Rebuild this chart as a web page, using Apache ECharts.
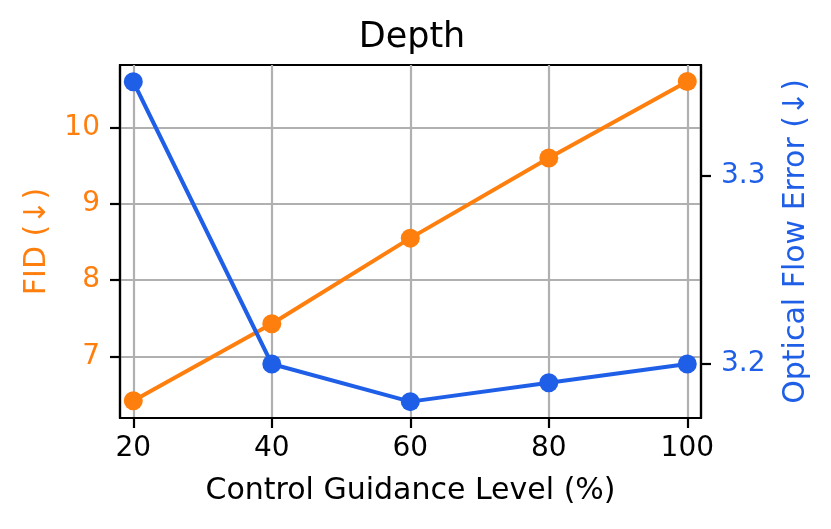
<!DOCTYPE html>
<html>
<head>
<meta charset="utf-8">
<script src="https://cdn.jsdelivr.net/npm/echarts@6/dist/echarts.min.js"></script>
<style>
  html, body { margin: 0; padding: 0; background: #fff; }
  #chart { width: 831px; height: 529px; }
</style>
</head>
<body>
<div id="chart"></div>
<script>
// data
var guidance = [20, 40, 60, 80, 100];
var fid = [6.42, 7.43, 8.55, 9.60, 10.60];
var flowError = [3.35, 3.20, 3.18, 3.19, 3.20];

var xTicks = [20, 40, 60, 80, 100];
var fidTicks = [7, 8, 9, 10];
var flowTicks = [3.2, 3.3];

var ORANGE = '#ff7f0e', BLUE = '#1f5fe8';
var FONT = 'DejaVu Sans';

function pairs(xs, ys) {
    var out = [];
    for (var i = 0; i < xs.length; i++) out.push([xs[i], ys[i]]);
    return out;
}

var chart = echarts.init(document.getElementById('chart'), null, { renderer: 'canvas' });

chart.setOption({
    animation: false,
    backgroundColor: '#fff',
    title: {
        text: 'Depth',
        left: 407,
        textAlign: 'center',
        top: 15,
        textStyle: { fontFamily: FONT, fontSize: 35, fontWeight: 'normal', color: '#000' }
    },
    grid: {
        left: 120, right: 130, top: 65, bottom: 111,
        containLabel: false,
        outerBoundsMode: 'none',
        show: true, borderColor: '#000', borderWidth: 2.2, backgroundColor: 'transparent'
    },
    xAxis: {
        type: 'value',
        min: 18.08, max: 101.98,
        name: 'Control Guidance Level (%)',
        nameLocation: 'middle',
        nameGap: 58,
        nameTextStyle: { fontFamily: FONT, fontSize: 30, color: '#000' },
        axisLine: { show: true, onZero: false, lineStyle: { color: '#000', width: 2.2 } },
        axisTick: { show: true, length: 10, customValues: xTicks, lineStyle: { color: '#000', width: 2.2 } },
        axisLabel: { customValues: xTicks, margin: 17, fontFamily: FONT, fontSize: 28, color: '#000' },
        splitLine: { show: true, lineStyle: { color: '#b0b0b0', width: 2.2 } }
    },
    yAxis: [{
        type: 'value',
        position: 'left',
        min: 6.195, max: 10.817,
        name: 'FID (↓)',
        nameLocation: 'middle',
        nameRotate: 90,
        nameGap: 68,
        nameTextStyle: { fontFamily: FONT, fontSize: 30, color: ORANGE },
        axisLine: { show: true, lineStyle: { color: '#000', width: 2.2 } },
        axisTick: { show: true, length: 10, customValues: fidTicks, lineStyle: { color: '#000', width: 2.2 } },
        axisLabel: { customValues: fidTicks, margin: 20, fontFamily: FONT, fontSize: 28, color: ORANGE },
        splitLine: { show: true, lineStyle: { color: '#b0b0b0', width: 2.2 } }
    }, {
        type: 'value',
        position: 'right',
        min: 3.1713, max: 3.3589,
        name: 'Optical Flow Error (↓)',
        nameLocation: 'middle',
        nameRotate: 90,
        nameGap: 80,
        nameTextStyle: { fontFamily: FONT, fontSize: 30, color: BLUE },
        axisLine: { show: true, lineStyle: { color: '#000', width: 2.2 } },
        axisTick: { show: true, length: 10, customValues: flowTicks, lineStyle: { color: '#000', width: 2.2 } },
        axisLabel: { customValues: flowTicks, margin: 20, fontFamily: FONT, fontSize: 28, color: BLUE },
        splitLine: { show: false }
    }],
    series: [{
        name: 'FID',
        type: 'line',
        yAxisIndex: 0,
        data: pairs(guidance, fid),
        symbol: 'circle',
        symbolSize: 19,
        showSymbol: true,
        lineStyle: { color: ORANGE, width: 4 },
        itemStyle: { color: ORANGE },
        z: 3
    }, {
        name: 'Optical Flow Error',
        type: 'line',
        yAxisIndex: 1,
        data: pairs(guidance, flowError),
        symbol: 'circle',
        symbolSize: 19,
        showSymbol: true,
        lineStyle: { color: BLUE, width: 4 },
        itemStyle: { color: BLUE },
        z: 4
    }]
});
</script>
</body>
</html>
